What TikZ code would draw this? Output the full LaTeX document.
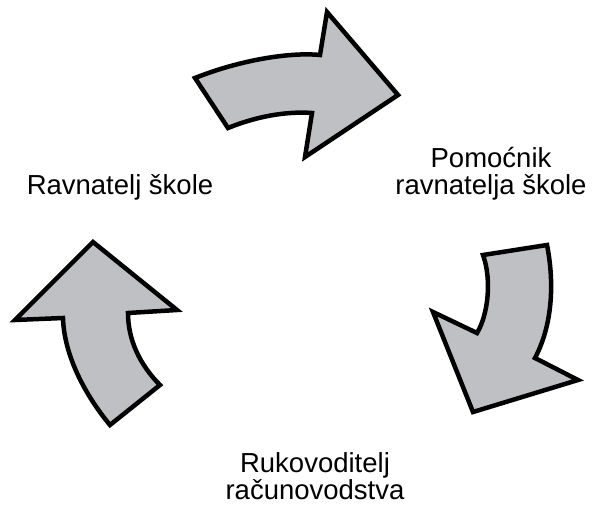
\documentclass[tikz,border=0pt]{standalone}
\usepackage{fontspec}
\setmainfont{Liberation Sans}
\usepackage{tikz}
\usetikzlibrary{positioning}
\definecolor{arrowgrey}{RGB}{190,192,196}
\tikzset{
  bigarrow/.style={draw=black, fill=arrowgrey, line width=4.5pt, line join=miter},
  roletext/.style={font=\fontsize{27.5}{27}\selectfont, align=center, anchor=base, inner sep=0pt}
}

\begin{document}
\begin{tikzpicture}[x=1pt, y=-1pt]
      \useasboundingbox (0, 0) rectangle (596, 506);

      % top arrow
      \draw[bigarrow] (195, 78) .. controls (240, 60) and (290, 52) .. (320, 55)
        -- (327, 12) -- (398, 95) -- (305, 157) -- (312, 113)
        .. controls (285, 111) and (255, 117) .. (228, 128) -- cycle;

      % right arrow
      \draw[bigarrow] (483, 255) -- (547, 245)
        .. controls (553, 275) and (555, 320) .. (535, 358)
        -- (578, 380) -- (473, 412) -- (433, 312) -- (477, 333)
        .. controls (488, 315) and (492, 280) .. (483, 255) -- cycle;

      % left arrow
      \draw[bigarrow] (93, 242) -- (177, 310) -- (128, 313)
        .. controls (128, 340) and (140, 365) .. (160, 385)
        -- (110, 425)
        .. controls (85, 395) and (64, 355) .. (63, 318)
        -- (15, 320) -- cycle;

      \node[roletext] (ravnatelj) at (120, 194) {Ravnatelj škole};
      \node[roletext] (pomocnik) at (491, 194) {Pomoćnik\\ravnatelja škole};
      \node[roletext] (racunovodstvo) at (315, 499) {Rukovoditelj\\računovodstva};
\end{tikzpicture}
\end{document}
